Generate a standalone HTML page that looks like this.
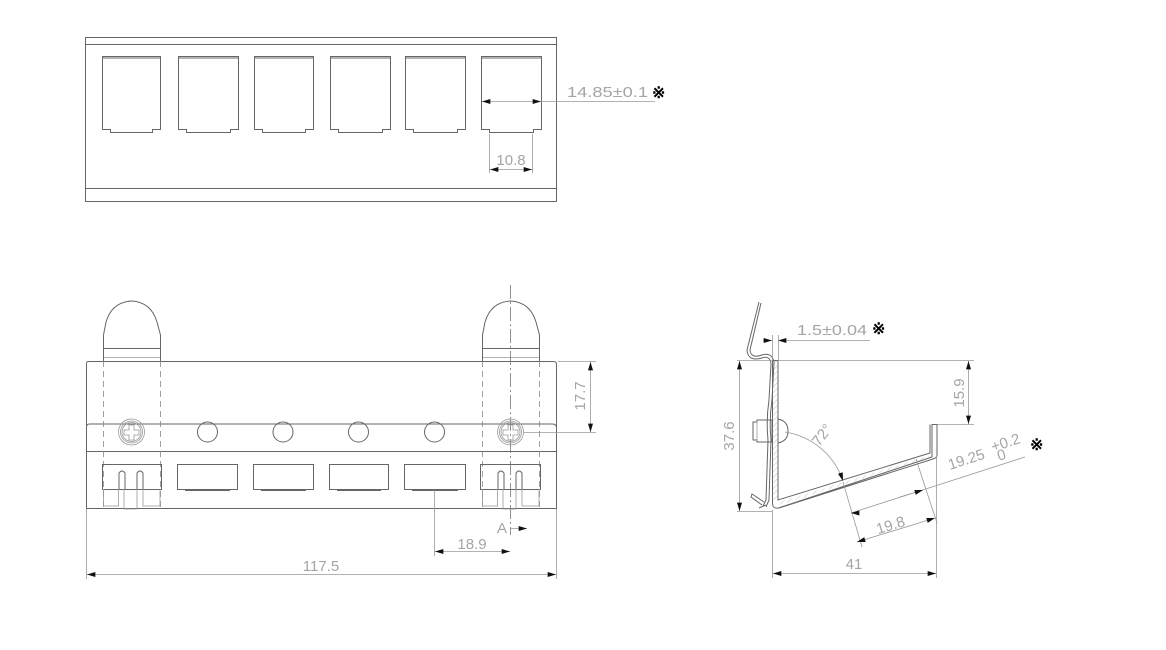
<!DOCTYPE html>
<html><head><meta charset="utf-8"><style>
html,body{margin:0;padding:0;background:#fff}
svg{display:block}
text{font-family:"Liberation Sans",sans-serif;fill:#a5a5a5;font-size:15px}
.o{stroke:#666;stroke-width:1;fill:none}
.d{stroke:#999;stroke-width:0.8;fill:none}
.dash{stroke:#888;stroke-width:0.8;fill:none;stroke-dasharray:6 4}
.cl{stroke:#777;stroke-width:0.8;fill:none;stroke-dasharray:14 3 2 3}
.k{fill:#000;font-size:16px;font-weight:bold}
</style></head><body>
<svg width="1166" height="650" viewBox="0 0 1166 650" xmlns="http://www.w3.org/2000/svg">
<defs>
<marker id="a" viewBox="0 0 10 6" refX="10" refY="3" markerWidth="9" markerHeight="5" orient="auto-start-reverse" markerUnits="userSpaceOnUse"><path d="M0,0L10,3L0,6z" fill="#111"/></marker>
<pattern id="h" width="4" height="4" patternUnits="userSpaceOnUse" patternTransform="rotate(45)"><line x1="0" y1="0" x2="0" y2="4" stroke="#999" stroke-width="0.6"/></pattern>
</defs>

<!-- TOP VIEW -->
<rect x="85.5" y="37.5" width="471" height="164" class="o"/>
<line x1="85" y1="44.5" x2="556" y2="44.5" class="o"/>
<line x1="85" y1="188.5" x2="556" y2="188.5" class="o"/>
<g class="o">
<path d="M102.5,56.5h58v73h-8v3h-42v-3h-8z"/><line x1="102" y1="58" x2="160" y2="58"/>
<path d="M178.5,56.5h60v73h-8v3h-44v-3h-8z"/><line x1="178" y1="58" x2="238" y2="58"/>
<path d="M254.5,56.5h59v73h-8v3h-43v-3h-8z"/><line x1="254" y1="58" x2="313" y2="58"/>
<path d="M330.5,56.5h60v73h-8v3h-44v-3h-8z"/><line x1="330" y1="58" x2="390" y2="58"/>
<path d="M405.5,56.5h60v73h-8v3h-44v-3h-8z"/><line x1="405" y1="58" x2="465" y2="58"/>
<path d="M481.5,56.5h60v73h-8v3h-44v-3h-8z"/><line x1="481" y1="58" x2="541" y2="58"/>
</g>
<line x1="482" y1="101.5" x2="541" y2="101.5" class="d" marker-start="url(#a)" marker-end="url(#a)"/>
<line x1="541" y1="101.5" x2="655" y2="101.5" class="d"/>
<text x="567" y="97" font-size="15" textLength="81" lengthAdjust="spacingAndGlyphs">14.85±0.1</text><text x="652" y="98" class="k">※</text>
<line x1="489.5" y1="134" x2="489.5" y2="173" class="d"/><line x1="532.5" y1="134" x2="532.5" y2="173" class="d"/>
<line x1="490" y1="169.5" x2="532" y2="169.5" class="d" marker-start="url(#a)" marker-end="url(#a)"/>
<text x="511" y="165" text-anchor="middle" font-size="15">10.8</text>

<!-- FRONT VIEW -->
<path d="M86.5,508.5V363.5q0-2 2-2h465q3 0 3 3V508.5z" class="o"/>
<path d="M86.5,427q0-3 3-3h463q4 0 4 4" class="o"/>
<line x1="86" y1="451.5" x2="556" y2="451.5" class="o"/>
<path d="M103.5,335 L106,322 Q112,302 131.5,301 Q151,302 157,322 L160.5,335" class="o"/>
<line x1="103" y1="348.5" x2="160" y2="348.5" class="o"/><line x1="103" y1="357.5" x2="160" y2="357.5" class="d"/>
<line x1="103.5" y1="335" x2="103.5" y2="361" class="o"/><line x1="160.5" y1="335" x2="160.5" y2="361" class="o"/>
<path d="M482.5,335 L485,322 Q491,302 510.5,301 Q530,302 536,322 L539.5,335" class="o"/>
<line x1="482" y1="348.5" x2="539" y2="348.5" class="o"/><line x1="482" y1="357.5" x2="539" y2="357.5" class="d"/>
<line x1="482.5" y1="335" x2="482.5" y2="361" class="o"/><line x1="539.5" y1="335" x2="539.5" y2="361" class="o"/>
<line x1="103.5" y1="361" x2="103.5" y2="507" class="dash"/><line x1="160.5" y1="361" x2="160.5" y2="507" class="dash"/>
<line x1="482.5" y1="361" x2="482.5" y2="507" class="dash"/><line x1="539.5" y1="361" x2="539.5" y2="507" class="dash"/>
<line x1="510.5" y1="285" x2="510.5" y2="535" class="cl"/>
<g class="d"><circle cx="131.5" cy="432" r="13"/><circle cx="131.5" cy="432" r="11"/><circle cx="131.5" cy="432" r="9.5"/>
<path d="M129,425h5v5h5v5h-5v5h-5v-5h-5v-5h5z"/>
<circle cx="510.5" cy="432" r="13"/><circle cx="510.5" cy="432" r="11"/><circle cx="510.5" cy="432" r="9.5"/>
<path d="M508,425h5v5h5v5h-5v5h-5v-5h-5v-5h5z"/></g>
<g class="o"><circle cx="207.5" cy="432" r="10"/><circle cx="283" cy="432" r="10"/><circle cx="358.5" cy="432" r="10"/><circle cx="434.5" cy="432" r="10"/></g>
<g class="o">
<rect x="102.5" y="464.5" width="59" height="25"/>
<rect x="177.5" y="464.5" width="60" height="25"/><line x1="185" y1="490.5" x2="230" y2="490.5"/>
<rect x="253.5" y="464.5" width="60" height="25"/><line x1="261" y1="490.5" x2="306" y2="490.5"/>
<rect x="329.5" y="464.5" width="59" height="25"/><line x1="337" y1="490.5" x2="381" y2="490.5"/>
<rect x="404.5" y="464.5" width="61" height="25"/><line x1="412" y1="490.5" x2="458" y2="490.5"/>
<rect x="480.5" y="464.5" width="60" height="25"/>
<path d="M119,489v-16q3-4 6-0v16M137,489v-16q3-4 6-0v16"/>
<path d="M498,489v-16q3-4 6-0v16M516,489v-16q3-4 6-0v16"/>
</g>
<g class="d">
<path d="M103.5,489v17h15v-17M143,489v17h17v-17M124,489v20h13v-20"/>
<path d="M482.5,489v17h15v-17M522,489v17h17v-17M503,489v20h13v-20"/>
</g>
<line x1="558" y1="361.5" x2="596" y2="361.5" class="d"/><line x1="524" y1="432.5" x2="596" y2="432.5" class="d"/>
<line x1="590.5" y1="362" x2="590.5" y2="432" class="d" marker-start="url(#a)" marker-end="url(#a)"/>
<text transform="translate(585,396) rotate(-90)" text-anchor="middle" font-size="15">17.7</text>
<line x1="434.5" y1="490" x2="434.5" y2="556" class="d"/>
<line x1="435" y1="551.5" x2="510" y2="551.5" class="d" marker-start="url(#a)" marker-end="url(#a)"/>
<text x="472" y="549" text-anchor="middle" font-size="16">18.9</text>
<text x="502" y="533" text-anchor="middle" font-size="15">A</text>
<line x1="510" y1="528.5" x2="527" y2="528.5" class="d" marker-end="url(#a)"/>
<line x1="86.5" y1="509" x2="86.5" y2="579" class="d"/><line x1="556.5" y1="509" x2="556.5" y2="579" class="d"/>
<line x1="87" y1="574.5" x2="556" y2="574.5" class="d" marker-start="url(#a)" marker-end="url(#a)"/>
<text x="321" y="571" text-anchor="middle" font-size="16">117.5</text>

<!-- SIDE VIEW -->
<path d="M772.5,360.5V503q0,6 6,5L932,457V424.5h5V455q0,3-4,4L779,508" class="o"/>
<path d="M772.5,360.5h5.5V500l152,-47V424.5" class="o"/>
<rect x="772.5" y="361" width="5.5" height="139" fill="url(#h)"/>
<path d="M780,505L930,457l0,-2L780,502z" fill="url(#h)"/>
<line x1="778" y1="360.5" x2="974" y2="360.5" class="d"/>
<line x1="937" y1="424.5" x2="974" y2="424.5" class="d"/>
<line x1="968.5" y1="361" x2="968.5" y2="424" class="d" marker-start="url(#a)" marker-end="url(#a)"/>
<text transform="translate(964,393) rotate(-90)" text-anchor="middle" font-size="15">15.9</text>
<path d="M759,302L747,350Q748,362 762,358Q770,355 771,364L769,400Q766,420 768,440L766,500L763,506" class="o"/>
<path d="M761,303L750,350Q751,359 762,355Q772,352 774,362L772,400Q769,420 771,440L769,500L766,507" class="o"/>
<path d="M764,502L752,494L751,497L762,505M766,505L759,508" class="o"/>
<path d="M753,422h4v-2h15v22h-15v-2h-4z" class="o"/><line x1="757" y1="421" x2="757" y2="441" class="d"/>
<path d="M778,419q10,2 10,12q0,10-10,12" class="o"/>
<path d="M785,432A73,73 0 0 1 843,481" class="d" marker-end="url(#a)"/>
<text transform="translate(826,438) rotate(-52)" text-anchor="middle" font-size="15">72°</text>
<line x1="737" y1="360.5" x2="772" y2="360.5" class="d"/><line x1="737" y1="511.5" x2="772" y2="511.5" class="d"/>
<line x1="739.5" y1="361" x2="739.5" y2="511" class="d" marker-start="url(#a)" marker-end="url(#a)"/>
<text transform="translate(734,436) rotate(-90)" text-anchor="middle" font-size="16">37.6</text>
<line x1="763" y1="340.5" x2="772" y2="340.5" class="d" marker-end="url(#a)"/>
<line x1="787" y1="340.5" x2="778" y2="340.5" class="d" marker-end="url(#a)"/>
<line x1="787" y1="340.5" x2="870" y2="340.5" class="d"/>
<line x1="772.5" y1="335" x2="772.5" y2="360" class="d"/><line x1="778.5" y1="335" x2="778.5" y2="360" class="d"/>
<text x="797" y="335" font-size="15" textLength="70" lengthAdjust="spacingAndGlyphs">1.5±0.04</text><text x="872" y="334" class="k">※</text>
<line x1="843" y1="482" x2="862" y2="547" class="d"/>
<line x1="916" y1="459" x2="937" y2="523" class="d"/>
<line x1="857" y1="542" x2="935" y2="518" class="d" marker-start="url(#a)" marker-end="url(#a)"/>
<text transform="translate(892,530) rotate(-17)" text-anchor="middle" font-size="16">19.8</text>
<line x1="851" y1="513" x2="1025" y2="457" class="d"/>
<line x1="851" y1="513" x2="852" y2="513" class="d" marker-start="url(#a)"/>
<line x1="900" y1="497" x2="923" y2="490" class="d" marker-end="url(#a)"/>
<text transform="translate(950,470) rotate(-18)" font-size="16">19.25</text>
<text transform="translate(993,452) rotate(-18)" font-size="10">+0.2</text>
<text transform="translate(999,461) rotate(-18)" font-size="10">0</text>
<text x="1030" y="450" class="k">※</text>
<line x1="772.5" y1="510" x2="772.5" y2="578" class="d"/><line x1="936.5" y1="455" x2="936.5" y2="578" class="d"/>
<line x1="773" y1="573.5" x2="936" y2="573.5" class="d" marker-start="url(#a)" marker-end="url(#a)"/>
<text x="854" y="569" text-anchor="middle" font-size="16">41</text>
</svg>
</body></html>
